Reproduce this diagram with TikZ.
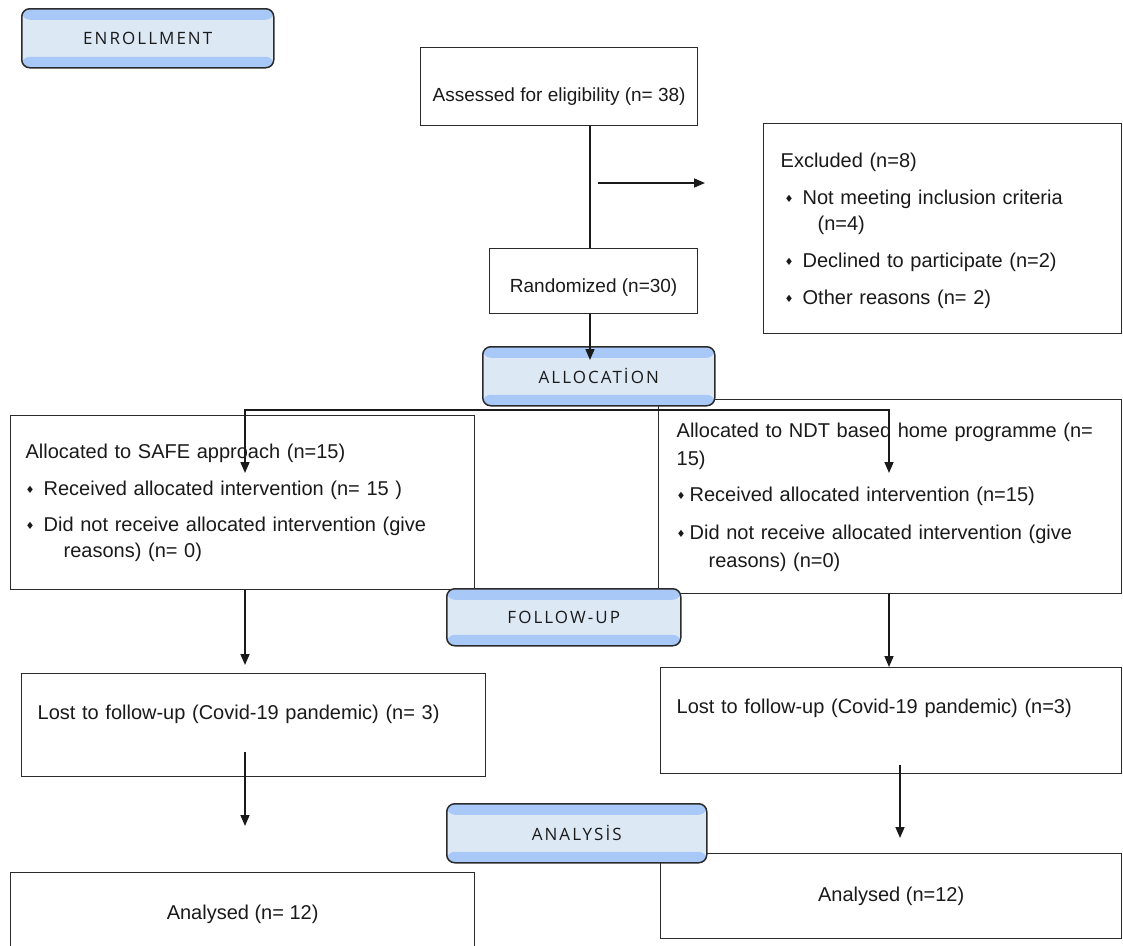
\documentclass[tikz,border=0pt]{standalone}
\usepackage{fontspec}
\setmainfont{Liberation Sans}
\newfontfamily\headfont[LetterSpace=12]{Open Sans}
\newfontfamily\symfont{DejaVu Sans}
\usetikzlibrary{calc}
\usetikzlibrary{arrows.meta}
\usetikzlibrary{positioning}

\definecolor{bandblue}{HTML}{A8C8F8}
\definecolor{paleblue}{HTML}{DDE8F5}
\definecolor{edge}{HTML}{2B2B2B}
\definecolor{ink}{HTML}{1A1A1A}

% small diamond bullet
\newcommand{\bul}[1][18pt]{\makebox[#1][l]{\raisebox{2pt}{\symfont\fontsize{10}{10}\selectfont ♦}}}

\tikzset{
  box/.style={draw=edge, line width=1.3pt, fill=white, anchor=north west,
    inner sep=0pt, text=ink, font=\fontsize{20}{26}\selectfont},
  listbox/.style={box, align=left},
  stage/.style={draw=edge, line width=1.5pt, rounded corners=8pt, fill=paleblue,
    anchor=north west, inner sep=0pt, text=ink,
    font=\headfont\fontsize{17}{17}\selectfont,
    path picture={
      \fill[bandblue] (path picture bounding box.north west) rectangle
        ([yshift=-11pt]path picture bounding box.north east);
      \fill[bandblue] (path picture bounding box.south west) rectangle
        ([yshift=11pt]path picture bounding box.south east);
    }},
  conn/.style={draw=ink, line width=1.6pt},
  arr/.style={conn, -{Triangle[length=11pt,width=9pt]}},
}

\begin{document}
\begin{tikzpicture}[x=1pt,y=-1pt]
\useasboundingbox (0,0) rectangle (1123,945);

% boxes
\node[box, minimum width=277pt, minimum height=78pt, text height=34pt,
  text depth=5pt, font=\fontsize{19}{20}\selectfont] (assess) at (420,47)
  {Assessed for eligibility (n= 38)};
\node[listbox, minimum width=358pt, minimum height=210pt, text width=324pt,
  inner xsep=17pt] (excl) at (763,123)
  {\mbox{}\\[-8pt]
   Excluded (n=8)\\[11pt]
   \hspace*{4pt}\bul[18pt]Not meeting inclusion criteria\\
   \hspace*{37pt}(n=4)\\[11pt]
   \hspace*{4pt}\bul[18pt]Declined to participate (n=2)\\[11pt]
   \hspace*{4pt}\bul[18pt]Other reasons (n= 2)};
\node[box, minimum width=208pt, minimum height=65pt, text height=27pt,
  font=\fontsize{19}{20}\selectfont] (rand) at (489,248) {Randomized (n=30)};

\node[listbox, minimum width=464pt, minimum height=174pt, text width=434pt,
  inner xsep=15pt] (allocL) at (10,415)
  {Allocated to SAFE approach (n=15)\\[11pt]
   \bul Received allocated intervention (n= 15 )\\[10pt]
   \bul Did not receive allocated intervention (give\\
   \hspace*{38pt}reasons) (n= 0)};
\node[listbox, minimum width=463pt, minimum height=194pt, text width=427pt,
  inner xsep=18pt, font=\fontsize{20}{28}\selectfont] (allocR) at (658,399)
  {\mbox{}\\[-12pt]
   Allocated to NDT based home programme (n=\\
   15)\\[8pt]
   \bul[13pt]Received allocated intervention (n=15)\\[10pt]
   \bul[13pt]Did not receive allocated intervention (give\\
   \hspace*{32pt}reasons) (n=0)};

\node[listbox, minimum width=464pt, minimum height=103pt, text width=432pt,
  inner xsep=16pt, text depth=25pt] (lostL) at (21,673)
  {Lost to follow-up (Covid-19 pandemic) (n= 3)};
\node[listbox, minimum width=461pt, minimum height=106pt, text width=429pt,
  inner xsep=16pt, text depth=28pt] (lostR) at (660,667)
  {Lost to follow-up (Covid-19 pandemic) (n=3)};

\node[box, minimum width=464pt, minimum height=83pt] (anaL) at (10,872)
  {Analysed (n= 12)};
\node[box, minimum width=461pt, minimum height=85pt] (anaR) at (660,853)
  {Analysed (n=12)};

% stage labels
\node[stage, minimum width=252pt, minimum height=59pt] (enrol) at (21,8) {ENROLLMENT};
\node[stage, minimum width=232pt, minimum height=59pt] (allocation) at (482,346) {ALLOCATİON};
\node[stage, minimum width=234pt, minimum height=57pt] (followup) at (446,588) {FOLLOW-UP};
\node[stage, minimum width=260pt, minimum height=59pt] (analysis) at (446,803) {ANALYSİS};

% connectors
\coordinate (spine) at (590,0);
\coordinate (colL) at (245,0);
\coordinate (colR) at (889,0);
\coordinate (exfrom) at (598,183);
\coordinate (exto) at (705,183);
\coordinate (alloctip) at (590,360);
\coordinate (bar) at (0,410);
\coordinate (tipL) at (245,473);
\coordinate (tipR) at (889,473);
\coordinate (lostLout) at (245,752);
\coordinate (anaLin) at (245,826);
\coordinate (lostRout) at (900,765);
\coordinate (anaRin) at (900,838);

\draw[conn] (assess.south -| spine) -- (rand.north -| spine);
\draw[arr] (exfrom) -- (exto);
\draw[arr] (rand.south -| spine) -- (alloctip);
\draw[conn, {Triangle[length=11pt,width=9pt]}-{Triangle[length=11pt,width=9pt]}]
  (tipL) -- (tipL |- bar) -- (tipR |- bar) -- (tipR);
\draw[arr, shorten >=8pt] (allocL.south -| colL) -- (lostL.north -| colL);
\draw[arr] (allocR.south -| colR) -- (lostR.north -| colR);
\draw[arr] (lostLout) -- (anaLin);
\draw[arr] (lostRout) -- (anaRin);

\end{tikzpicture}
\end{document}
